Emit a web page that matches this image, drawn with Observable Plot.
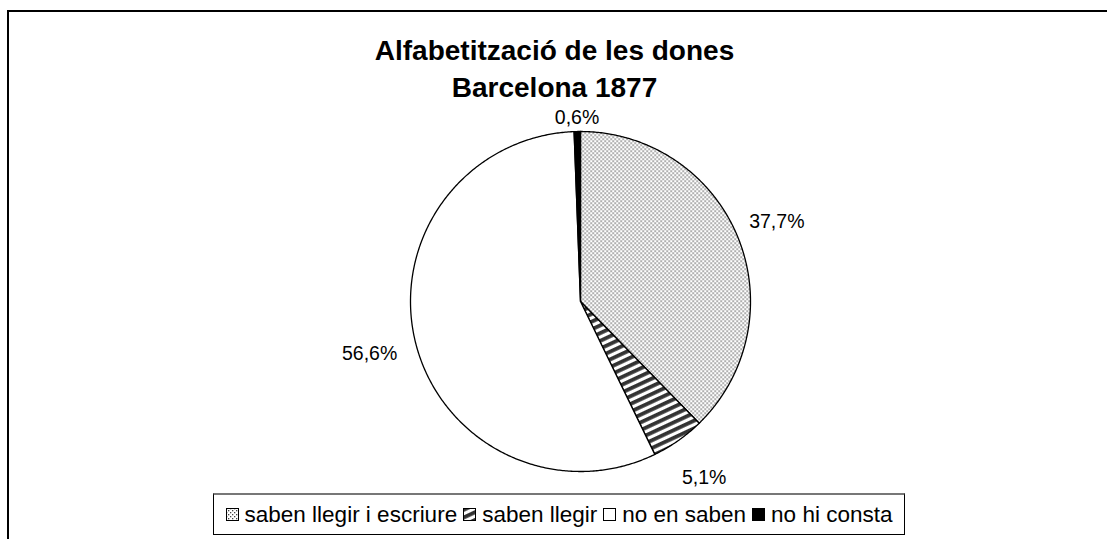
<!DOCTYPE html>
<html>
<head>
<meta charset="utf-8">
<script src="https://cdn.jsdelivr.net/npm/d3@7"></script>
<script src="https://cdn.jsdelivr.net/npm/@observablehq/plot@0.6"></script>
<style>
  html, body { margin: 0; padding: 0; background: #fff; overflow: hidden; }
  body { width: 1107px; height: 539px; position: relative; font-family: "Liberation Sans", Arial, sans-serif; }
  #frame { position: absolute; left: 7px; top: 10px; width: 1150px; height: 650px; border-left: 2px solid #000; border-top: 2px solid #000; }
  #chart { position: absolute; left: 0; top: 0; }
  #title { position: absolute; left: 0; width: 1107px; top: 32px; text-align: center; font-weight: bold; font-size: 28px; line-height: 37px; color: #000; }
  #title div { position: relative; left: 1px; }
  #legend { position: absolute; left: 213px; top: 493px; width: 692px; height: 42px; border: 1px solid #000; border-top: 2px solid #777; box-sizing: border-box; display: flex; align-items: center; justify-content: center; font-size: 22.5px; color: #000; white-space: nowrap; }
  #legend span.item { display: inline-flex; align-items: center; margin: 0 3px; }
  #legend svg { margin-right: 6px; }
</style>
</head>
<body>
<div id="frame"></div>
<div id="chart"></div>
<div id="title"><div>Alfabetització de les dones</div><div>Barcelona 1877</div></div>
<div id="legend"></div>
<script>
// ---- data ----
const categories = ["saben llegir i escriure", "saben llegir", "no en saben", "no hi consta"];
const values = [37.7, 5.1, 56.6, 0.6];
const valueLabels = ["37,7%", "5,1%", "56,6%", "0,6%"];

// ---- styles ----
const fills = ["url(#pDots)", "url(#pStripes)", "#ffffff", "#000000"];

// ---- geometry from data ----
const total = d3.sum(values);
const cum = d3.cumsum(values);
const slices = categories.map((c, i) => {
  const a0 = ((cum[i] - values[i]) / total) * 2 * Math.PI;
  const a1 = (cum[i] / total) * 2 * Math.PI;
  const n = Math.max(2, Math.ceil((a1 - a0) / (Math.PI / 360)));
  const pts = [{x: 0, y: 0}];
  for (let k = 0; k <= n; k++) {
    const a = a0 + (a1 - a0) * k / n;
    pts.push({x: Math.sin(a), y: Math.cos(a)});
  }
  pts.push({x: 0, y: 0});
  const mid = (a0 + a1) / 2;
  const r = 1.08 + 0.18 * Math.abs(Math.sin(mid)) + 0.1 * Math.max(0, -Math.cos(mid));
  return {category: c, pts, label: {x: r * Math.sin(mid), y: r * Math.cos(mid), text: valueLabels[i]}};
});

const cx = 580, cy = 301, R = 170;
const marks = slices.map((s, i) => Plot.line(s.pts, {
  x: "x", y: "y", fill: fills[i], stroke: "#000", strokeWidth: 1.3, strokeLinejoin: "round", curve: "linear"
}));
marks.push(Plot.text(slices.map(s => s.label), {
  x: "x", y: "y", text: "text", fontSize: 19.5, fill: "#000", fontFamily: "Liberation Sans, Arial, sans-serif"
}));

const svg = Plot.plot({
  width: 1107,
  height: 480,
  margin: 0,
  x: {domain: [-1, 1], range: [cx - R, cx + R], axis: null},
  y: {domain: [-1, 1], range: [cy + R, cy - R], axis: null},
  style: {background: "transparent", overflow: "visible"},
  marks
});

// patterns
const defs = d3.select(svg).insert("defs", ":first-child");
const pd = defs.append("pattern").attr("id", "pDots").attr("patternUnits", "userSpaceOnUse")
  .attr("width", 4).attr("height", 4);
pd.append("rect").attr("width", 4).attr("height", 4).attr("fill", "#fff");
pd.append("rect").attr("x", 0).attr("y", 0).attr("width", 1.3).attr("height", 1.3).attr("fill", "#444");
pd.append("rect").attr("x", 2).attr("y", 2).attr("width", 1.3).attr("height", 1.3).attr("fill", "#444");
const ps = defs.append("pattern").attr("id", "pStripes").attr("patternUnits", "userSpaceOnUse")
  .attr("width", 8).attr("height", 7).attr("patternTransform", "rotate(-25)");
ps.append("rect").attr("width", 8).attr("height", 7).attr("fill", "#fff");
ps.append("rect").attr("x", 0).attr("y", 0).attr("width", 8).attr("height", 3.8).attr("fill", "#333");

document.getElementById("chart").appendChild(svg);

// legend
const legend = d3.select("#legend");
categories.forEach((c, i) => {
  const it = legend.append("span").attr("class", "item");
  const s = it.append("svg").attr("width", 13).attr("height", 13);
  s.append("rect").attr("x", 0.5).attr("y", 0.5).attr("width", 12).attr("height", 12)
    .attr("fill", fills[i]).attr("stroke", "#000").attr("stroke-width", 1);
  it.append("span").text(c);
});
</script>
</body>
</html>
